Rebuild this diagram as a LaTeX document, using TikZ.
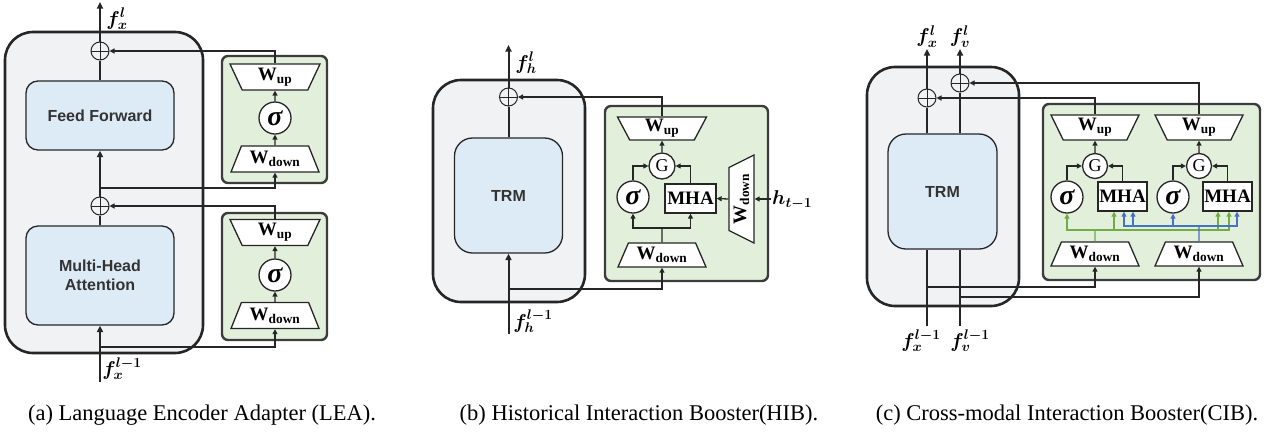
\RequirePackage{fix-cm}
\documentclass[tikz,border=0pt]{standalone}
\usepackage{fontspec}
\setmainfont{Liberation Serif}
\newfontfamily\sansf{Liberation Sans}
\usepackage{bm}
\usetikzlibrary{shapes.geometric,arrows.meta}
\definecolor{graybg}{HTML}{F1F2F4}
\definecolor{bluebg}{HTML}{DDEBF7}
\definecolor{greenbg}{HTML}{E2EFDA}
\definecolor{edge}{HTML}{262626}
\definecolor{garrow}{HTML}{70AD47}
\definecolor{barrow}{HTML}{4472C4}
\definecolor{txtgray}{HTML}{333333}
\newcommand{\wfont}{\bfseries\fontsize{19}{19}\selectfont}
\newcommand{\Wt}[1]{\makebox[30pt]{W\textsubscript{#1}}}
\newcommand{\sig}{{\bfseries\itshape\fontsize{28}{28}\selectfont σ}}
\tikzset{
  outer/.style={draw=edge, line width=2.6pt, fill=graybg, rounded corners=28pt, inner sep=0pt},
  block/.style={draw=edge, line width=1.3pt, fill=bluebg, rounded corners=12pt,
    font=\sansf\bfseries\fontsize{16}{19}\selectfont, text=txtgray, align=center, inner sep=0pt},
  adapter/.style={draw=edge!90, line width=2.4pt, fill=greenbg, rounded corners=6pt, inner sep=0pt},
  wupbox/.style={trapezium, trapezium stretches body, shape border rotate=180, trapezium angle=56,
    draw=edge, line width=1.3pt, fill=white, minimum width=90pt, minimum height=26pt, inner sep=0pt, font=\wfont},
  wdownbox/.style={trapezium, trapezium stretches body, trapezium angle=56,
    draw=edge, line width=1.3pt, fill=white, minimum width=88pt, minimum height=26pt, inner sep=0pt, font=\wfont},
  sigbox/.style={circle, draw=edge, line width=1.3pt, fill=white, minimum size=32pt, inner sep=0pt},
  gbox/.style={circle, draw=edge, line width=1.3pt, fill=white, minimum size=26pt, inner sep=0pt,
    font=\fontsize{18}{18}\selectfont},
  mhabox/.style={rectangle, draw=edge, line width=1.3pt, fill=white, minimum width=51pt, minimum height=29pt,
    inner sep=0pt, font=\wfont},
  plus/.style={circle, draw=edge, line width=1pt, minimum size=18pt, inner sep=0pt,
    path picture={\draw[line width=1pt, edge] (path picture bounding box.north) -- (path picture bounding box.south)
      (path picture bounding box.west) -- (path picture bounding box.east);}},
  conn/.style={draw=edge, line width=1.3pt},
  arr/.style={conn, -{Triangle[length=5pt,width=5pt]}},
  garr/.style={draw=garrow, line width=1.3pt, -{Triangle[length=5pt,width=5pt]}},
  gline/.style={draw=garrow, line width=1.3pt},
  barr/.style={draw=barrow, line width=1.3pt, -{Triangle[length=5pt,width=5pt]}},
  bline/.style={draw=barrow, line width=1.3pt},
  trunk/.style={draw=edge, line width=2pt},
  tarr/.style={trunk, -{Triangle[length=6.5pt,width=6pt]}},
  lab/.style={font=\fontsize{20}{20}\selectfont, inner sep=1pt},
  captext/.style={font=\fontsize{22.5}{24}\selectfont, inner sep=0pt},
}
\begin{document}
\begin{tikzpicture}[x=1pt,y=-1pt]
\useasboundingbox (0,0) rectangle (1266,437);
% ================= panel (a)
\node[outer, minimum width=198pt, minimum height=321pt] (ga) at (104,192.5) {};
\node[adapter, minimum width=105pt, minimum height=127pt] (gA1) at (274.5,119.5) {};
\node[adapter, minimum width=105pt, minimum height=127pt] (gA2) at (274.5,276.5) {};
\node[block, minimum width=148pt, minimum height=69pt] (ff) at (100,115.5) {Feed Forward};
\node[block, minimum width=148pt, minimum height=99pt] (mha) at (100,275.5) {Multi-Head\\Attention};
\node[plus] (pA1) at (100,51) {};
\node[plus] (pA2) at (100,206) {};
\node[wupbox] (wuA1) at (275,77) {\Wt{up}};
\node[sigbox] (sA1) at (275,118) {\sig};
\node[wdownbox] (wdA1) at (275,159) {\Wt{down}};
\node[wupbox] (wuA2) at (275,232.5) {\Wt{up}};
\node[sigbox] (sA2) at (275,275) {\sig};
\node[wdownbox] (wdA2) at (275,315.5) {\Wt{down}};
\coordinate (outA) at (100,2);
\coordinate (inA) at (100,382);
\coordinate (bA1) at (100,188);
\coordinate (bA2) at (100,347);
\draw[trunk] (ff.north) -- (pA1.south);
\draw[tarr] (pA1.north) -- (outA);
\draw[tarr] (pA2.north) -- (ff.south);
\draw[trunk] (mha.north) -- (pA2.south);
\draw[tarr] (inA) -- (mha.south);
\draw[arr] (wuA1.north) |- (pA1.east);
\draw[arr] (wuA2.north) |- (pA2.east);
\draw[arr] (bA1) -| (wdA1.south);
\draw[arr] (bA2) -| (wdA2.south);
\draw[arr] (sA1.north) -- (wuA1.south);
\draw[arr] (wdA1.north) -- (sA1.south);
\draw[arr] (sA2.north) -- (wuA2.south);
\draw[arr] (wdA2.north) -- (sA2.south);
\node[lab] (lA1) at (117,19) {$\bm{f}_{\bm{x}}^{\bm{l}}$};
\node[lab] (lA2) at (122,369) {$\bm{f}_{\bm{x}}^{\bm{l-1}}$};
% ================= panel (b)
\node[outer, minimum width=152pt, minimum height=222pt] (gb) at (509,191) {};
\node[adapter, minimum width=163pt, minimum height=175pt] (gB) at (686.5,193.5) {};
\node[block, minimum width=108pt, minimum height=115pt, rounded corners=18pt] (trmB) at (508.5,195.5) {TRM};
\node[plus] (pB) at (508.5,97) {};
\node[wupbox, minimum width=89pt, minimum height=23pt] (wuB) at (662,128.5) {\Wt{up}};
\node[gbox] (gtB) at (662,166) {G};
\node[sigbox] (sB) at (633,197) {\sig};
\node[mhabox] (mB) at (690.5,198.5) {MHA};
\node[wdownbox, rotate=90, minimum width=88pt, minimum height=25pt, trapezium angle=51] (vdB) at (741.5,199) {\Wt{down}};
\node[wdownbox, minimum height=24pt] (wdB) at (662,255) {\Wt{down}};
\node[lab, anchor=west] (hB) at (771,200) {$\bm{h}_{\bm{t-1}}$};
\coordinate (jB) at (662,228);
\coordinate (outB) at (508.5,45);
\coordinate (inB) at (508.5,334);
\coordinate (bB) at (508.5,289);
\draw[trunk] (trmB.north) -- (pB.south);
\draw[tarr] (pB.north) -- (outB);
\draw[tarr] (inB) -- (trmB.south);
\draw[arr] (bB) -| (wdB.south);
\draw[arr] (wuB.north) |- (pB.east);
\draw[arr] (gtB) -- (wuB.south);
\draw[arr] (sB.north) |- (gtB.west);
\draw[arr] (mB.north) |- (gtB.east);
\draw[arr] (vdB.north) -- (mB.east);
\draw[arr] (hB.west |- vdB.south) -- (vdB.south);
\draw[conn] (wdB.north) -- (jB);
\draw[arr] (jB) -| (sB.south);
\draw[arr] (jB) -| (mB.south);
\node[lab] (lB1) at (526,63) {$\bm{f}_{\bm{h}}^{\bm{l}}$};
\node[lab] (lB2) at (533,321) {$\bm{f}_{\bm{h}}^{\bm{l-1}}$};
% ================= panel (c)
\node[outer, minimum width=152pt, minimum height=239pt] (gc) at (943,186.5) {};
\node[adapter, minimum width=217pt, minimum height=176pt] (gC) at (1151.5,192) {};
\node[block, minimum width=109pt, minimum height=115pt, rounded corners=18pt] (trmC) at (942.5,191.5) {TRM};
\node[plus] (pX) at (927,98) {};
\node[plus] (pV) at (960,83) {};
\node[wupbox, minimum width=88pt, minimum height=25pt] (wuC1) at (1095,127.5) {\Wt{up}};
\node[wupbox, minimum width=88pt, minimum height=25pt] (wuC2) at (1199,127.5) {\Wt{up}};
\node[gbox, minimum size=25pt] (gtC1) at (1095,166) {G};
\node[gbox, minimum size=25pt] (gtC2) at (1199,166) {G};
\node[sigbox] (sC1) at (1067,197) {\sig};
\node[sigbox] (sC2) at (1173,197) {\sig};
\node[mhabox, minimum width=49pt] (mC1) at (1122.5,196.5) {MHA};
\node[mhabox, minimum width=49pt] (mC2) at (1227.5,196.5) {MHA};
\node[wdownbox, minimum height=24pt] (wdC1) at (1095,254) {\Wt{down}};
\node[wdownbox, minimum height=24pt] (wdC2) at (1199,254) {\Wt{down}};
\coordinate (jG) at (1095,230);
\coordinate (jBl) at (1199,226);
\coordinate (outX) at (927,49);
\coordinate (outV) at (960,49);
\coordinate (inX) at (927,326);
\coordinate (inV) at (960,326);
\coordinate (bX) at (927,287);
\coordinate (bV) at (960,297);
% trunks
\draw[trunk] (inX) -- (inX |- trmC.south);
\draw[trunk] (inV) -- (inV |- trmC.south);
\draw[trunk] (pX |- trmC.north) -- (pX.south);
\draw[trunk] (pV |- trmC.north) -- (pV.south);
\draw[tarr] (pX.north) -- (outX);
\draw[tarr] (pV.north) -- (outV);
\draw[arr] (bX) -| (wdC1.south);
\draw[arr] (bV) -| (wdC2.south);
\draw[arr] (wuC1.north) |- (pX.east);
\draw[arr] (wuC2.north) |- (pV.east);
% gates
\draw[arr] (gtC1) -- (wuC1.south);
\draw[arr] (gtC2) -- (wuC2.south);
\draw[arr] (sC1.north) |- (gtC1.west);
\draw[arr] (mC1.north) |- (gtC1.east);
\draw[arr] (sC2.north) |- (gtC2.west);
\draw[arr] (mC2.north) |- (gtC2.east);
% green (text) routing
\draw[gline] (wdC1.north) -- (jG);
\draw[garr] (jG) -| (sC1.south);
\draw[garr] (jG) -| ([xshift=-8.5pt]mC1.south);
\draw[garr] (jG) -| ([xshift=-9.5pt]mC2.south);
\draw[garr] (jG) -| ([xshift=1.5pt]mC2.south);
% blue (visual) routing
\draw[bline] (wdC2.north) -- (jBl);
\draw[barr] (jBl) -| ([xshift=1.5pt]mC1.south);
\draw[barr] (jBl) -| ([xshift=10.5pt]mC1.south);
\draw[barr] (jBl) -| (sC2.south);
\draw[barr] (jBl) -| ([xshift=9.5pt]mC2.south);
\node[lab, anchor=south] (lC1) at (outX) {$\bm{f}_{\bm{x}}^{\bm{l}}$};
\node[lab, anchor=south] (lC2) at (outV) {$\bm{f}_{\bm{v}}^{\bm{l}}$};
\node[lab] (lC3) at (921,341) {$\bm{f}_{\bm{x}}^{\bm{l-1}}$};
\node[lab] (lC4) at (970,341) {$\bm{f}_{\bm{v}}^{\bm{l-1}}$};
% ================= captions
\node[captext] (capA) at (202,415) {(a) Language Encoder Adapter (LEA).};
\node[captext] (capB) at (639,415) {(b) Historical Interaction Booster(HIB).};
\node[captext] (capC) at (1067,415) {(c) Cross-modal Interaction Booster(CIB).};
\end{tikzpicture}
\end{document}
